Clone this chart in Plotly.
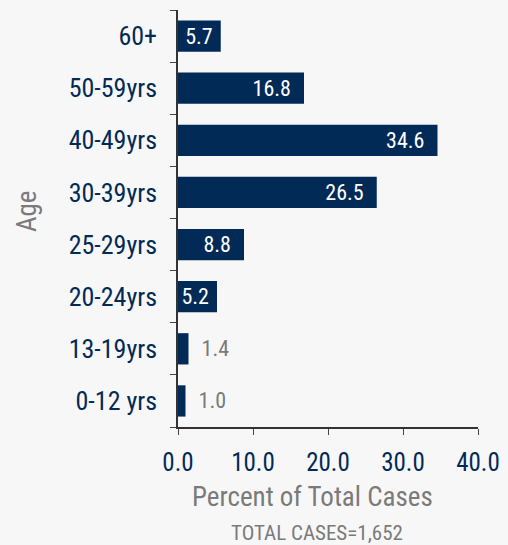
import plotly.graph_objects as go

AGE_GROUPS = ["0-12 yrs", "13-19yrs", "20-24yrs", "25-29yrs",
              "30-39yrs", "40-49yrs", "50-59yrs", "60+"]
PERCENTS = [1.0, 1.4, 5.2, 8.8, 26.5, 34.6, 16.8, 5.7]
X_TICKS = [0, 10, 20, 30, 40]
X_TICK_LABELS = ["0.0", "10.0", "20.0", "30.0", "40.0"]

NAVY = "#022a56"
GRAY = "#7a7a7a"
BG = "#f7f7f7"
FONT = "Roboto Condensed, Liberation Sans Narrow, sans-serif"


def _label(v):
    # 5 未満は棒の外側, それ以外は棒の内側右寄せ
    if v < 5:
        return f"  {v:.1f}"
    return f"{v:.1f}  " if v >= 8 else f"{v:.1f} "


positions = ["inside" if v >= 5 else "outside" for v in PERCENTS]
text_colors = ["white" if v >= 5 else GRAY for v in PERCENTS]
labels = [_label(v) for v in PERCENTS]

fig = go.Figure(
    go.Bar(
        x=PERCENTS,
        y=AGE_GROUPS,
        orientation="h",
        marker=dict(color=NAVY, line=dict(width=0)),
        text=labels,
        textposition=positions,
        insidetextanchor="end",
        textfont=dict(family=FONT, size=22, color=text_colors),
        constraintext="none",
        cliponaxis=False,
        hoverinfo="x+y",
    )
)

fig.update_layout(
    width=508,
    height=545,
    paper_bgcolor=BG,
    plot_bgcolor=BG,
    bargap=0.4,
    showlegend=False,
    margin=dict(l=178, r=30, t=10, b=118),
    font=dict(family=FONT),
    xaxis=dict(
        range=[0, 40],
        tickvals=X_TICKS,
        ticktext=X_TICK_LABELS,
        tickfont=dict(size=25, color=NAVY),
        ticks="outside",
        ticklen=6,
        tickcolor="#444",
        ticklabelstandoff=6,
        showline=True,
        linecolor="#333",
        linewidth=1.5,
        showgrid=False,
        zeroline=False,
        automargin=False,
        fixedrange=True,
    ),
    yaxis=dict(
        type="category",
        categoryorder="array",
        categoryarray=AGE_GROUPS,
        tickfont=dict(size=26, color=NAVY),
        tickson="boundaries",
        ticks="outside",
        ticklen=6,
        tickcolor="#444",
        ticklabelstandoff=14,
        showline=True,
        linecolor="#333",
        linewidth=1.5,
        showgrid=False,
        automargin=False,
        fixedrange=True,
    ),
    annotations=[
        dict(text="Age", xref="paper", yref="paper",
             x=-0.503, y=0.518, xanchor="center", yanchor="middle",
             textangle=-90, showarrow=False,
             font=dict(size=27, color=GRAY)),
        dict(text="Percent of Total Cases", xref="paper", yref="paper",
             x=0.447, y=-0.168, xanchor="center", yanchor="middle",
             showarrow=False, font=dict(size=27, color=GRAY)),
        dict(text="TOTAL CASES=1,652", xref="paper", yref="paper",
             x=0.463, y=-0.254, xanchor="center", yanchor="middle",
             showarrow=False, font=dict(size=21, color=GRAY)),
    ],
)

fig.write_html("out.html", config=dict(displayModeBar=False),
               post_script="document.body.style.margin='0';")
